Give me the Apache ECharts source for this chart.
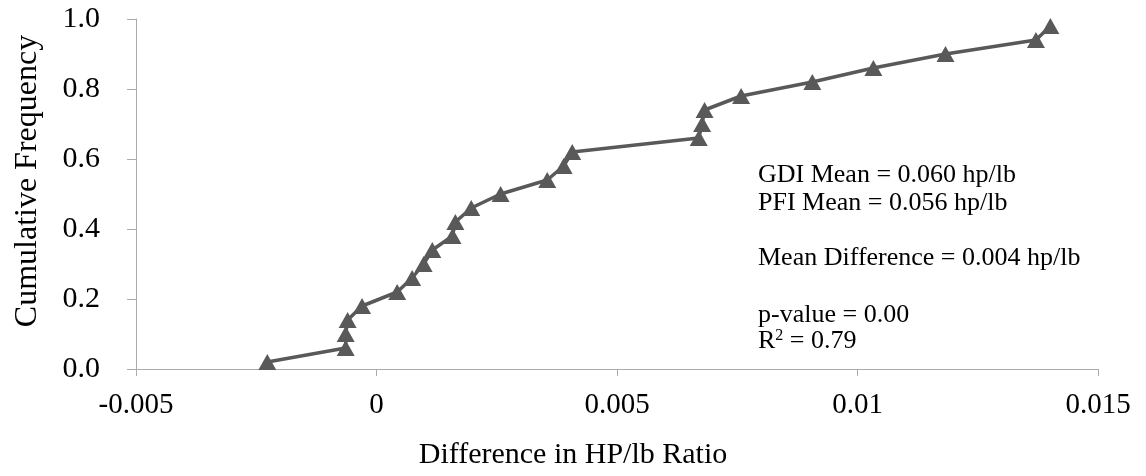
<!DOCTYPE html>
<html>
<head>
<meta charset="utf-8">
<script src="https://cdn.jsdelivr.net/npm/echarts@6/dist/echarts.min.js"></script>
<style>html,body{margin:0;padding:0;background:#fff;}#c{width:1146px;height:476px;}</style>
</head>
<body>
<div id="c"></div>
<script>
const diffValues = [-0.00227, -0.00064, -0.00064, -0.0006, -0.0003, 0.00043, 0.00074, 0.00098, 0.00116, 0.00158, 0.00164, 0.00197, 0.00258, 0.00355, 0.00389, 0.00407, 0.0067, 0.00677, 0.00682, 0.00758, 0.00906, 0.01033, 0.01183, 0.01371, 0.01401];
const cumFreq = [0.02, 0.06, 0.10, 0.14, 0.18, 0.22, 0.26, 0.30, 0.34, 0.38, 0.42, 0.46, 0.50, 0.54, 0.58, 0.62, 0.66, 0.70, 0.74, 0.78, 0.82, 0.86, 0.90, 0.94, 0.98];
const xTicks = { min: -0.005, max: 0.015, interval: 0.005 };
const yTicks = { min: 0, max: 1.0, interval: 0.2 };
const xTitle = 'Difference in HP/lb Ratio';
const yTitle = 'Cumulative Frequency';
const statLines = ["GDI Mean = 0.060 hp/lb", "PFI Mean = 0.056 hp/lb", "Mean Difference = 0.004 hp/lb", "p-value = 0.00"];

const font = "'Liberation Serif','Times New Roman',serif";
const chart = echarts.init(document.getElementById('c'));
const points = diffValues.map((x, i) => [x, cumFreq[i]]);
const axisGray = '#ababab';
const txt = (t, y) => ({ type: 'text', x: 758, y: y, style: { text: t, font: '26px ' + font, fill: '#000', verticalAlign: 'middle' } });
chart.setOption({
  animation: false,
  grid: { left: 136, right: 48, top: 19, bottom: 107 },
  xAxis: {
    type: 'value', min: xTicks.min, max: xTicks.max, interval: xTicks.interval,
    axisLine: { show: true, onZero: false, lineStyle: { color: axisGray, width: 1 } },
    axisTick: { show: true, length: 7, lineStyle: { color: axisGray } },
    axisLabel: { fontFamily: font, fontSize: 29, color: '#000', margin: 22,
      formatter: v => String(Math.round(v * 1000) / 1000) },
    splitLine: { show: false }
  },
  yAxis: {
    type: 'value', min: yTicks.min, max: yTicks.max, interval: yTicks.interval,
    axisLine: { show: true, onZero: false, lineStyle: { color: axisGray, width: 1 } },
    axisTick: { show: true, length: 9, lineStyle: { color: axisGray } },
    axisLabel: { fontFamily: font, fontSize: 30, color: '#000', margin: 36, formatter: v => v.toFixed(1) },
    splitLine: { show: false }
  },
  series: [{
    type: 'line', data: points, symbol: 'triangle', symbolSize: [18, 16],
    lineStyle: { color: '#595959', width: 3.5 },
    itemStyle: { color: '#595959' }, z: 3
  }],
  graphic: [
    { type: 'text', x: 28, y: 181, rotation: Math.PI / 2,
      style: { text: yTitle, font: '32px ' + font, fill: '#000', align: 'center', verticalAlign: 'middle' } },
    { type: 'text', x: 573, y: 455,
      style: { text: xTitle, font: '30px ' + font, fill: '#000', align: 'center', verticalAlign: 'middle' } },
    txt(statLines[0], 175),
    txt(statLines[1], 203),
    txt(statLines[2], 258),
    txt(statLines[3], 315),
    { type: 'text', x: 758, y: 341, style: { text: '{a|R}{s|2}{a| = 0.79}', font: '26px ' + font, fill: '#000', verticalAlign: 'middle',
      rich: { a: { fontFamily: font, fontSize: 26, color: '#000', verticalAlign: 'bottom' }, s: { fontFamily: font, fontSize: 16, color: '#000', verticalAlign: 'top', padding: [0,0,10,0] } } } }
  ]
});
</script>
</body>
</html>
